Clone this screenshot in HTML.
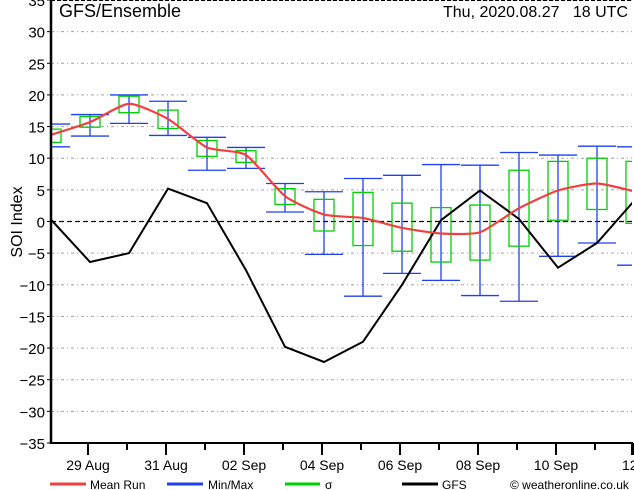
<!DOCTYPE html>
<html><head><meta charset="utf-8"><style>
body{margin:0;background:#fff;}
svg{display:block;font-family:"Liberation Sans",sans-serif;}
</style></head><body>
<svg id="chart" width="634" height="490" viewBox="0 0 634 490" xmlns="http://www.w3.org/2000/svg">
<g id="grid"></g>
<g id="marks"></g>
<g id="axes"></g>
<text x="59" y="17" font-size="18">GFS/Ensemble</text>
<text x="628" y="17" font-size="16" text-anchor="end" xml:space="preserve">Thu, 2020.08.27   18 UTC</text>
<text transform="translate(22,222) rotate(-90)" font-size="16" text-anchor="middle">SOI Index</text>
<g font-size="12">
<g><line x1="50" y1="484" x2="86" y2="484" stroke="#f04040" stroke-width="3"/><text x="90" y="489">Mean Run</text></g>
<g><line x1="167" y1="484" x2="203" y2="484" stroke="#2040f0" stroke-width="3"/><text x="208" y="489">Min/Max</text></g>
<g><line x1="285" y1="484" x2="320" y2="484" stroke="#00d000" stroke-width="3"/><text x="325" y="489">σ</text></g>
<g><line x1="402" y1="484" x2="438" y2="484" stroke="#000" stroke-width="3"/><text x="442" y="489">GFS</text></g>
<text x="510" y="489">© weatheronline.co.uk</text>
</g>
</svg>
<script>
const days=["29 Aug","31 Aug","02 Sep","04 Sep","06 Sep","08 Sep","10 Sep","12"];
const yTicks=[35,30,25,20,15,10,5,0,-5,-10,-15,-20,-25,-30,-35];
const meanRun=[13.7,15.7,18.6,16.2,11.7,10.5,4.0,1.1,0.55,-1.0,-1.9,-1.7,2.1,4.9,6.0,4.7];
const sigmaHi=[14.6,16.6,19.8,17.6,12.8,11.2,5.2,3.5,4.6,2.9,2.2,2.6,8.1,9.5,10.0,9.5];
const sigmaLo=[12.5,14.9,17.2,14.7,10.3,9.35,2.7,-1.5,-3.8,-4.7,-6.4,-6.1,-3.9,0.2,1.9,-0.3];
const maxVals=[15.4,16.9,20.0,19.0,13.3,11.7,6.0,4.7,6.8,7.3,9.0,8.9,10.9,10.5,11.9,11.8];
const minVals=[11.8,13.5,15.5,13.6,8.1,8.4,1.5,-5.2,-11.8,-8.2,-9.3,-11.7,-12.6,-5.5,-3.4,-6.9];
const gfs=[0.3,-6.4,-5.0,5.2,2.9,-7.7,-19.8,-22.2,-19.0,-10.0,0.2,4.9,0.4,-7.3,-3.4,3.6];

const NS="http://www.w3.org/2000/svg";
const L=51,R=632,T=0,B=443;
const yS=v=>221.5-v*(443/70);
const xS=i=>51+39*i;
const dayX=k=>88+78*k;
function mk(tag,attrs,parent){const e=document.createElementNS(NS,tag);for(const k in attrs)e.setAttribute(k,attrs[k]);parent.appendChild(e);return e;}
const grid=document.getElementById('grid'),marks=document.getElementById('marks'),axes=document.getElementById('axes');
const defs=mk('clipPath',{id:'clip'},document.getElementById('chart'));
mk('rect',{x:L,y:T,width:R-L,height:B-T},defs);
marks.setAttribute('clip-path','url(#clip)');

yTicks.forEach(v=>{
  const y=yS(v);
  if(v!==0&&v!==-35){
    const g=mk('line',{x1:L,x2:R,y1:y,y2:y,stroke:'#a0a0a0','stroke-width':1,'stroke-dasharray':'3,3,1,3'},grid);
    
    
  }
  const t=mk('text',{x:45,y:y+6,'font-size':15,'text-anchor':'end'},axes);
  t.textContent=v<0?'\u2212'+(-v):String(v);
  
  
  const tk=mk('line',{x1:L-4,x2:L,y1:y,y2:y,stroke:'#000'},axes);
  
  
});
const zl=mk('line',{x1:L,x2:R,y1:yS(0),y2:yS(0),stroke:'#000','stroke-width':1.2,'stroke-dasharray':'5,3'},grid);



meanRun.forEach((m,i)=>{
  const x=xS(i);
  const g=mk('g',{},marks);
  
  
  mk('line',{x1:x,x2:x,y1:yS(maxVals[i]),y2:yS(minVals[i]),stroke:'#2040f0','stroke-width':1.3},g);
  mk('line',{x1:x-19,x2:x+19,y1:yS(maxVals[i]),y2:yS(maxVals[i]),stroke:'#2040f0','stroke-width':1.3},g);
  mk('line',{x1:x-19,x2:x+19,y1:yS(minVals[i]),y2:yS(minVals[i]),stroke:'#2040f0','stroke-width':1.3},g);
  mk('rect',{x:x-10,y:yS(sigmaHi[i]),width:20,height:yS(sigmaLo[i])-yS(sigmaHi[i]),fill:'none',stroke:'#00d000','stroke-width':1.3},g);
});
const gl=mk('polyline',{points:gfs.map((v,i)=>xS(i)+','+yS(v)).join(' '),fill:'none',stroke:'#000','stroke-width':2},marks);


const pts=meanRun.map((v,i)=>[xS(i),yS(v)]);
let d='M'+pts[0][0]+','+pts[0][1];
for(let i=0;i<pts.length-1;i++){
  const p0=pts[Math.max(0,i-1)],p1=pts[i],p2=pts[i+1],p3=pts[Math.min(pts.length-1,i+2)];
  d+=' C'+(p1[0]+(p2[0]-p0[0])/10)+','+(p1[1]+(p2[1]-p0[1])/10)+' '+(p2[0]-(p3[0]-p1[0])/10)+','+(p2[1]-(p3[1]-p1[1])/10)+' '+p2[0]+','+p2[1];
}
const ml=mk('path',{d:d,fill:'none',stroke:'#f04040','stroke-width':2.2},marks);



mk('line',{x1:L,x2:L,y1:0,y2:B+1,stroke:'#000','stroke-width':2.5},axes);
mk('line',{x1:L,x2:R+1,y1:B,y2:B,stroke:'#000','stroke-width':2},axes);
mk('line',{x1:R,x2:R,y1:B,y2:B+12,stroke:'#000','stroke-width':2},axes);
mk('line',{x1:L,x2:R,y1:0.5,y2:0.5,stroke:'#000','stroke-width':1,'stroke-dasharray':'4,2'},axes);
days.forEach((lab,k)=>{
  const x=dayX(k);
  const tk=mk('line',{x1:x,x2:x,y1:B,y2:B+12,stroke:'#000','stroke-width':2},axes);
  
  
  if(k<days.length-1){
    const m=mk('line',{x1:x+39,x2:x+39,y1:B,y2:B+7,stroke:'#000','stroke-width':2},axes);
    
    
  }
  const t=mk('text',{x:k===days.length-1?x-12:x,y:470,'font-size':14,'text-anchor':k===days.length-1?'start':'middle','xml:space':'preserve'},axes);
  t.textContent=lab.replace(' ','  ');
  
  
});
mk('line',{x1:L-4,x2:L,y1:0,y2:0,stroke:'#000'},axes);
</script>
</body></html>
